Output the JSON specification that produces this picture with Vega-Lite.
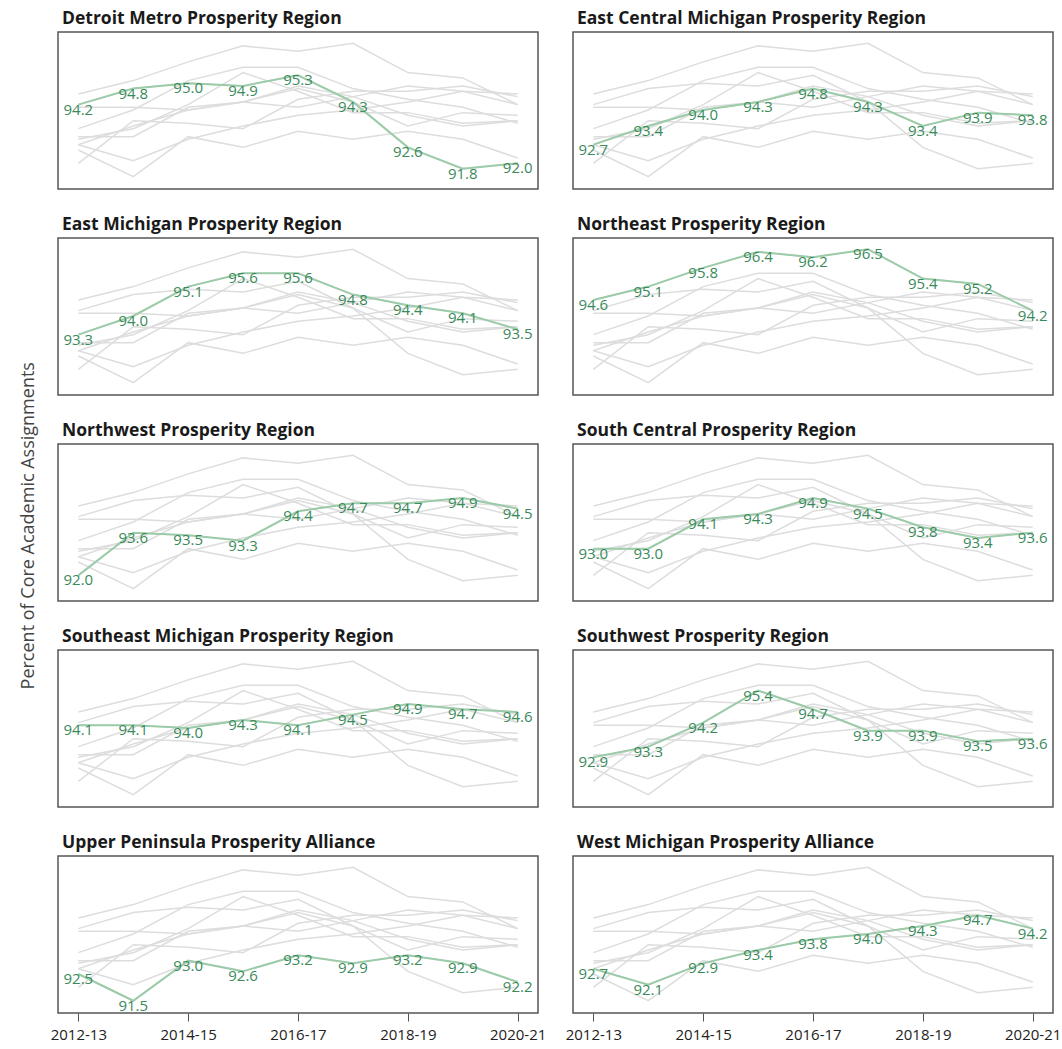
{
  "$schema": "https://vega.github.io/schema/vega-lite/v6.json",
  "padding": {"left": 20, "top": 8, "right": 2, "bottom": 2},
  "background": "white",
  "bounds": "flush",
  "spacing": {"row": 49, "column": 35},
  "config": {
    "font": "Open Sans",
    "view": {"stroke": "#555555", "strokeWidth": 1.5},
    "title": {"fontSize": 17.5, "fontWeight": "bold", "color": "#1a1a1a", "anchor": "start", "frame": "group", "offset": 5, "dx": 4, "font": "Open Sans"},
    "axis": {"labelFont": "Open Sans", "labelFontSize": 15, "labelColor": "#222222", "tickColor": "#555555", "tickSize": 8, "domain": false, "grid": false, "title": null, "labelPadding": 6, "labelAngle": 0}
  },
  "title": {"text": "Percent of Core Academic Assignments", "orient": "left", "anchor": "middle", "frame": "bounds", "dx": 0, "fontSize": 18, "fontWeight": "normal", "color": "#444444", "offset": 11},
  "data": {"values": [
    {"region": "Detroit Metro Prosperity Region", "year": "2012-13", "value": 94.2},
    {"region": "Detroit Metro Prosperity Region", "year": "2013-14", "value": 94.8},
    {"region": "Detroit Metro Prosperity Region", "year": "2014-15", "value": 95.0},
    {"region": "Detroit Metro Prosperity Region", "year": "2015-16", "value": 94.9},
    {"region": "Detroit Metro Prosperity Region", "year": "2016-17", "value": 95.3},
    {"region": "Detroit Metro Prosperity Region", "year": "2017-18", "value": 94.3},
    {"region": "Detroit Metro Prosperity Region", "year": "2018-19", "value": 92.6},
    {"region": "Detroit Metro Prosperity Region", "year": "2019-20", "value": 91.8},
    {"region": "Detroit Metro Prosperity Region", "year": "2020-21", "value": 92.0},
    {"region": "East Central Michigan Prosperity Region", "year": "2012-13", "value": 92.7},
    {"region": "East Central Michigan Prosperity Region", "year": "2013-14", "value": 93.4},
    {"region": "East Central Michigan Prosperity Region", "year": "2014-15", "value": 94.0},
    {"region": "East Central Michigan Prosperity Region", "year": "2015-16", "value": 94.3},
    {"region": "East Central Michigan Prosperity Region", "year": "2016-17", "value": 94.8},
    {"region": "East Central Michigan Prosperity Region", "year": "2017-18", "value": 94.3},
    {"region": "East Central Michigan Prosperity Region", "year": "2018-19", "value": 93.4},
    {"region": "East Central Michigan Prosperity Region", "year": "2019-20", "value": 93.9},
    {"region": "East Central Michigan Prosperity Region", "year": "2020-21", "value": 93.8},
    {"region": "East Michigan Prosperity Region", "year": "2012-13", "value": 93.3},
    {"region": "East Michigan Prosperity Region", "year": "2013-14", "value": 94.0},
    {"region": "East Michigan Prosperity Region", "year": "2014-15", "value": 95.1},
    {"region": "East Michigan Prosperity Region", "year": "2015-16", "value": 95.6},
    {"region": "East Michigan Prosperity Region", "year": "2016-17", "value": 95.6},
    {"region": "East Michigan Prosperity Region", "year": "2017-18", "value": 94.8},
    {"region": "East Michigan Prosperity Region", "year": "2018-19", "value": 94.4},
    {"region": "East Michigan Prosperity Region", "year": "2019-20", "value": 94.1},
    {"region": "East Michigan Prosperity Region", "year": "2020-21", "value": 93.5},
    {"region": "Northeast Prosperity Region", "year": "2012-13", "value": 94.6},
    {"region": "Northeast Prosperity Region", "year": "2013-14", "value": 95.1},
    {"region": "Northeast Prosperity Region", "year": "2014-15", "value": 95.8},
    {"region": "Northeast Prosperity Region", "year": "2015-16", "value": 96.4},
    {"region": "Northeast Prosperity Region", "year": "2016-17", "value": 96.2},
    {"region": "Northeast Prosperity Region", "year": "2017-18", "value": 96.5},
    {"region": "Northeast Prosperity Region", "year": "2018-19", "value": 95.4},
    {"region": "Northeast Prosperity Region", "year": "2019-20", "value": 95.2},
    {"region": "Northeast Prosperity Region", "year": "2020-21", "value": 94.2},
    {"region": "Northwest Prosperity Region", "year": "2012-13", "value": 92.0},
    {"region": "Northwest Prosperity Region", "year": "2013-14", "value": 93.6},
    {"region": "Northwest Prosperity Region", "year": "2014-15", "value": 93.5},
    {"region": "Northwest Prosperity Region", "year": "2015-16", "value": 93.3},
    {"region": "Northwest Prosperity Region", "year": "2016-17", "value": 94.4},
    {"region": "Northwest Prosperity Region", "year": "2017-18", "value": 94.7},
    {"region": "Northwest Prosperity Region", "year": "2018-19", "value": 94.7},
    {"region": "Northwest Prosperity Region", "year": "2019-20", "value": 94.9},
    {"region": "Northwest Prosperity Region", "year": "2020-21", "value": 94.5},
    {"region": "South Central Prosperity Region", "year": "2012-13", "value": 93.0},
    {"region": "South Central Prosperity Region", "year": "2013-14", "value": 93.0},
    {"region": "South Central Prosperity Region", "year": "2014-15", "value": 94.1},
    {"region": "South Central Prosperity Region", "year": "2015-16", "value": 94.3},
    {"region": "South Central Prosperity Region", "year": "2016-17", "value": 94.9},
    {"region": "South Central Prosperity Region", "year": "2017-18", "value": 94.5},
    {"region": "South Central Prosperity Region", "year": "2018-19", "value": 93.8},
    {"region": "South Central Prosperity Region", "year": "2019-20", "value": 93.4},
    {"region": "South Central Prosperity Region", "year": "2020-21", "value": 93.6},
    {"region": "Southeast Michigan Prosperity Region", "year": "2012-13", "value": 94.1},
    {"region": "Southeast Michigan Prosperity Region", "year": "2013-14", "value": 94.1},
    {"region": "Southeast Michigan Prosperity Region", "year": "2014-15", "value": 94.0},
    {"region": "Southeast Michigan Prosperity Region", "year": "2015-16", "value": 94.3},
    {"region": "Southeast Michigan Prosperity Region", "year": "2016-17", "value": 94.1},
    {"region": "Southeast Michigan Prosperity Region", "year": "2017-18", "value": 94.5},
    {"region": "Southeast Michigan Prosperity Region", "year": "2018-19", "value": 94.9},
    {"region": "Southeast Michigan Prosperity Region", "year": "2019-20", "value": 94.7},
    {"region": "Southeast Michigan Prosperity Region", "year": "2020-21", "value": 94.6},
    {"region": "Southwest Prosperity Region", "year": "2012-13", "value": 92.9},
    {"region": "Southwest Prosperity Region", "year": "2013-14", "value": 93.3},
    {"region": "Southwest Prosperity Region", "year": "2014-15", "value": 94.2},
    {"region": "Southwest Prosperity Region", "year": "2015-16", "value": 95.4},
    {"region": "Southwest Prosperity Region", "year": "2016-17", "value": 94.7},
    {"region": "Southwest Prosperity Region", "year": "2017-18", "value": 93.9},
    {"region": "Southwest Prosperity Region", "year": "2018-19", "value": 93.9},
    {"region": "Southwest Prosperity Region", "year": "2019-20", "value": 93.5},
    {"region": "Southwest Prosperity Region", "year": "2020-21", "value": 93.6},
    {"region": "Upper Peninsula Prosperity Alliance", "year": "2012-13", "value": 92.5},
    {"region": "Upper Peninsula Prosperity Alliance", "year": "2013-14", "value": 91.5},
    {"region": "Upper Peninsula Prosperity Alliance", "year": "2014-15", "value": 93.0},
    {"region": "Upper Peninsula Prosperity Alliance", "year": "2015-16", "value": 92.6},
    {"region": "Upper Peninsula Prosperity Alliance", "year": "2016-17", "value": 93.2},
    {"region": "Upper Peninsula Prosperity Alliance", "year": "2017-18", "value": 92.9},
    {"region": "Upper Peninsula Prosperity Alliance", "year": "2018-19", "value": 93.2},
    {"region": "Upper Peninsula Prosperity Alliance", "year": "2019-20", "value": 92.9},
    {"region": "Upper Peninsula Prosperity Alliance", "year": "2020-21", "value": 92.2},
    {"region": "West Michigan Prosperity Alliance", "year": "2012-13", "value": 92.7},
    {"region": "West Michigan Prosperity Alliance", "year": "2013-14", "value": 92.1},
    {"region": "West Michigan Prosperity Alliance", "year": "2014-15", "value": 92.9},
    {"region": "West Michigan Prosperity Alliance", "year": "2015-16", "value": 93.4},
    {"region": "West Michigan Prosperity Alliance", "year": "2016-17", "value": 93.8},
    {"region": "West Michigan Prosperity Alliance", "year": "2017-18", "value": 94.0},
    {"region": "West Michigan Prosperity Alliance", "year": "2018-19", "value": 94.3},
    {"region": "West Michigan Prosperity Alliance", "year": "2019-20", "value": 94.7},
    {"region": "West Michigan Prosperity Alliance", "year": "2020-21", "value": 94.2}
  ]},
  "columns": 2,
  "concat": [
    {"title": "Detroit Metro Prosperity Region", "width": 480, "height": 157,
     "encoding": {"x": {"field": "year", "type": "ordinal", "scale": {"type": "point", "padding": 0.37}, "axis": {"values": ["2012-13", "2014-15", "2016-17", "2018-19", "2020-21"], "labelOpacity": 0, "tickOpacity": 0, "tickSize": 0, "labelPadding": 0}},
                  "y": {"field": "value", "type": "quantitative", "scale": {"domain": [91.04, 96.92], "nice": false, "zero": false}, "axis": null}},
     "layer": [
       {"mark": {"type": "line", "color": "#dddddd", "strokeWidth": 1.5}, "encoding": {"detail": {"field": "region"}}},
       {"transform": [{"filter": "datum.region == 'Detroit Metro Prosperity Region'"}], "mark": {"type": "line", "color": "#9ccba9", "strokeWidth": 2}},
       {"transform": [{"filter": "datum.region == 'Detroit Metro Prosperity Region'"}], "mark": {"type": "text", "color": "#3a8a5a", "fontSize": 15, "dy": 5}, "encoding": {"text": {"field": "value", "type": "quantitative", "format": ".1f"}}}
     ]},
    {"title": "East Central Michigan Prosperity Region", "width": 480, "height": 157,
     "encoding": {"x": {"field": "year", "type": "ordinal", "scale": {"type": "point", "padding": 0.37}, "axis": {"values": ["2012-13", "2014-15", "2016-17", "2018-19", "2020-21"], "labelOpacity": 0, "tickOpacity": 0, "tickSize": 0, "labelPadding": 0}},
                  "y": {"field": "value", "type": "quantitative", "scale": {"domain": [91.04, 96.92], "nice": false, "zero": false}, "axis": null}},
     "layer": [
       {"mark": {"type": "line", "color": "#dddddd", "strokeWidth": 1.5}, "encoding": {"detail": {"field": "region"}}},
       {"transform": [{"filter": "datum.region == 'East Central Michigan Prosperity Region'"}], "mark": {"type": "line", "color": "#9ccba9", "strokeWidth": 2}},
       {"transform": [{"filter": "datum.region == 'East Central Michigan Prosperity Region'"}], "mark": {"type": "text", "color": "#3a8a5a", "fontSize": 15, "dy": 5}, "encoding": {"text": {"field": "value", "type": "quantitative", "format": ".1f"}}}
     ]},
    {"title": "East Michigan Prosperity Region", "width": 480, "height": 157,
     "encoding": {"x": {"field": "year", "type": "ordinal", "scale": {"type": "point", "padding": 0.37}, "axis": {"values": ["2012-13", "2014-15", "2016-17", "2018-19", "2020-21"], "labelOpacity": 0, "tickOpacity": 0, "tickSize": 0, "labelPadding": 0}},
                  "y": {"field": "value", "type": "quantitative", "scale": {"domain": [91.04, 96.92], "nice": false, "zero": false}, "axis": null}},
     "layer": [
       {"mark": {"type": "line", "color": "#dddddd", "strokeWidth": 1.5}, "encoding": {"detail": {"field": "region"}}},
       {"transform": [{"filter": "datum.region == 'East Michigan Prosperity Region'"}], "mark": {"type": "line", "color": "#9ccba9", "strokeWidth": 2}},
       {"transform": [{"filter": "datum.region == 'East Michigan Prosperity Region'"}], "mark": {"type": "text", "color": "#3a8a5a", "fontSize": 15, "dy": 5}, "encoding": {"text": {"field": "value", "type": "quantitative", "format": ".1f"}}}
     ]},
    {"title": "Northeast Prosperity Region", "width": 480, "height": 157,
     "encoding": {"x": {"field": "year", "type": "ordinal", "scale": {"type": "point", "padding": 0.37}, "axis": {"values": ["2012-13", "2014-15", "2016-17", "2018-19", "2020-21"], "labelOpacity": 0, "tickOpacity": 0, "tickSize": 0, "labelPadding": 0}},
                  "y": {"field": "value", "type": "quantitative", "scale": {"domain": [91.04, 96.92], "nice": false, "zero": false}, "axis": null}},
     "layer": [
       {"mark": {"type": "line", "color": "#dddddd", "strokeWidth": 1.5}, "encoding": {"detail": {"field": "region"}}},
       {"transform": [{"filter": "datum.region == 'Northeast Prosperity Region'"}], "mark": {"type": "line", "color": "#9ccba9", "strokeWidth": 2}},
       {"transform": [{"filter": "datum.region == 'Northeast Prosperity Region'"}], "mark": {"type": "text", "color": "#3a8a5a", "fontSize": 15, "dy": 5}, "encoding": {"text": {"field": "value", "type": "quantitative", "format": ".1f"}}}
     ]},
    {"title": "Northwest Prosperity Region", "width": 480, "height": 157,
     "encoding": {"x": {"field": "year", "type": "ordinal", "scale": {"type": "point", "padding": 0.37}, "axis": {"values": ["2012-13", "2014-15", "2016-17", "2018-19", "2020-21"], "labelOpacity": 0, "tickOpacity": 0, "tickSize": 0, "labelPadding": 0}},
                  "y": {"field": "value", "type": "quantitative", "scale": {"domain": [91.04, 96.92], "nice": false, "zero": false}, "axis": null}},
     "layer": [
       {"mark": {"type": "line", "color": "#dddddd", "strokeWidth": 1.5}, "encoding": {"detail": {"field": "region"}}},
       {"transform": [{"filter": "datum.region == 'Northwest Prosperity Region'"}], "mark": {"type": "line", "color": "#9ccba9", "strokeWidth": 2}},
       {"transform": [{"filter": "datum.region == 'Northwest Prosperity Region'"}], "mark": {"type": "text", "color": "#3a8a5a", "fontSize": 15, "dy": 5}, "encoding": {"text": {"field": "value", "type": "quantitative", "format": ".1f"}}}
     ]},
    {"title": "South Central Prosperity Region", "width": 480, "height": 157,
     "encoding": {"x": {"field": "year", "type": "ordinal", "scale": {"type": "point", "padding": 0.37}, "axis": {"values": ["2012-13", "2014-15", "2016-17", "2018-19", "2020-21"], "labelOpacity": 0, "tickOpacity": 0, "tickSize": 0, "labelPadding": 0}},
                  "y": {"field": "value", "type": "quantitative", "scale": {"domain": [91.04, 96.92], "nice": false, "zero": false}, "axis": null}},
     "layer": [
       {"mark": {"type": "line", "color": "#dddddd", "strokeWidth": 1.5}, "encoding": {"detail": {"field": "region"}}},
       {"transform": [{"filter": "datum.region == 'South Central Prosperity Region'"}], "mark": {"type": "line", "color": "#9ccba9", "strokeWidth": 2}},
       {"transform": [{"filter": "datum.region == 'South Central Prosperity Region'"}], "mark": {"type": "text", "color": "#3a8a5a", "fontSize": 15, "dy": 5}, "encoding": {"text": {"field": "value", "type": "quantitative", "format": ".1f"}}}
     ]},
    {"title": "Southeast Michigan Prosperity Region", "width": 480, "height": 157,
     "encoding": {"x": {"field": "year", "type": "ordinal", "scale": {"type": "point", "padding": 0.37}, "axis": {"values": ["2012-13", "2014-15", "2016-17", "2018-19", "2020-21"], "labelOpacity": 0, "tickOpacity": 0, "tickSize": 0, "labelPadding": 0}},
                  "y": {"field": "value", "type": "quantitative", "scale": {"domain": [91.04, 96.92], "nice": false, "zero": false}, "axis": null}},
     "layer": [
       {"mark": {"type": "line", "color": "#dddddd", "strokeWidth": 1.5}, "encoding": {"detail": {"field": "region"}}},
       {"transform": [{"filter": "datum.region == 'Southeast Michigan Prosperity Region'"}], "mark": {"type": "line", "color": "#9ccba9", "strokeWidth": 2}},
       {"transform": [{"filter": "datum.region == 'Southeast Michigan Prosperity Region'"}], "mark": {"type": "text", "color": "#3a8a5a", "fontSize": 15, "dy": 5}, "encoding": {"text": {"field": "value", "type": "quantitative", "format": ".1f"}}}
     ]},
    {"title": "Southwest Prosperity Region", "width": 480, "height": 157,
     "encoding": {"x": {"field": "year", "type": "ordinal", "scale": {"type": "point", "padding": 0.37}, "axis": {"values": ["2012-13", "2014-15", "2016-17", "2018-19", "2020-21"], "labelOpacity": 0, "tickOpacity": 0, "tickSize": 0, "labelPadding": 0}},
                  "y": {"field": "value", "type": "quantitative", "scale": {"domain": [91.04, 96.92], "nice": false, "zero": false}, "axis": null}},
     "layer": [
       {"mark": {"type": "line", "color": "#dddddd", "strokeWidth": 1.5}, "encoding": {"detail": {"field": "region"}}},
       {"transform": [{"filter": "datum.region == 'Southwest Prosperity Region'"}], "mark": {"type": "line", "color": "#9ccba9", "strokeWidth": 2}},
       {"transform": [{"filter": "datum.region == 'Southwest Prosperity Region'"}], "mark": {"type": "text", "color": "#3a8a5a", "fontSize": 15, "dy": 5}, "encoding": {"text": {"field": "value", "type": "quantitative", "format": ".1f"}}}
     ]},
    {"title": "Upper Peninsula Prosperity Alliance", "width": 480, "height": 157,
     "encoding": {"x": {"field": "year", "type": "ordinal", "scale": {"type": "point", "padding": 0.37}, "axis": {"values": ["2012-13", "2014-15", "2016-17", "2018-19", "2020-21"]}},
                  "y": {"field": "value", "type": "quantitative", "scale": {"domain": [91.04, 96.92], "nice": false, "zero": false}, "axis": null}},
     "layer": [
       {"mark": {"type": "line", "color": "#dddddd", "strokeWidth": 1.5}, "encoding": {"detail": {"field": "region"}}},
       {"transform": [{"filter": "datum.region == 'Upper Peninsula Prosperity Alliance'"}], "mark": {"type": "line", "color": "#9ccba9", "strokeWidth": 2}},
       {"transform": [{"filter": "datum.region == 'Upper Peninsula Prosperity Alliance'"}], "mark": {"type": "text", "color": "#3a8a5a", "fontSize": 15, "dy": 5}, "encoding": {"text": {"field": "value", "type": "quantitative", "format": ".1f"}}}
     ]},
    {"title": "West Michigan Prosperity Alliance", "width": 480, "height": 157,
     "encoding": {"x": {"field": "year", "type": "ordinal", "scale": {"type": "point", "padding": 0.37}, "axis": {"values": ["2012-13", "2014-15", "2016-17", "2018-19", "2020-21"]}},
                  "y": {"field": "value", "type": "quantitative", "scale": {"domain": [91.04, 96.92], "nice": false, "zero": false}, "axis": null}},
     "layer": [
       {"mark": {"type": "line", "color": "#dddddd", "strokeWidth": 1.5}, "encoding": {"detail": {"field": "region"}}},
       {"transform": [{"filter": "datum.region == 'West Michigan Prosperity Alliance'"}], "mark": {"type": "line", "color": "#9ccba9", "strokeWidth": 2}},
       {"transform": [{"filter": "datum.region == 'West Michigan Prosperity Alliance'"}], "mark": {"type": "text", "color": "#3a8a5a", "fontSize": 15, "dy": 5}, "encoding": {"text": {"field": "value", "type": "quantitative", "format": ".1f"}}}
     ]}
  ]
}
